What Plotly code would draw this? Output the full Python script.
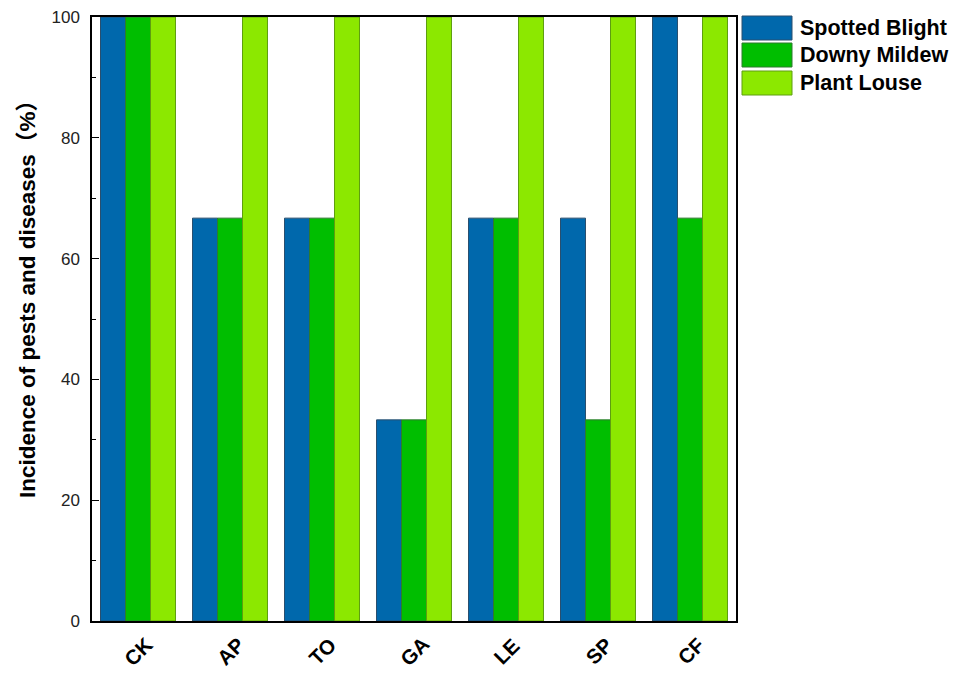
import plotly.graph_objects as go

categories = ["CK", "AP", "TO", "GA", "LE", "SP", "CF"]
series_names = ["Spotted Blight", "Downy Mildew", "Plant Louse"]
spotted_blight = [100, 66.7, 66.7, 33.3, 66.7, 66.7, 100]
downy_mildew = [100, 66.7, 66.7, 33.3, 66.7, 33.3, 66.7]
plant_louse = [100, 100, 100, 100, 100, 100, 100]
y_ticks = [0, 20, 40, 60, 80, 100]
y_title = "Incidence of pests and diseases（%）"

values = [spotted_blight, downy_mildew, plant_louse]
colors = ["#0068AC", "#00BE00", "#8CE800"]
outlines = ["#2A4F6E", "#2E7A2E", "#5E9E10"]

W, H = 958, 676
L, R, T, B = 92, 736, 17, 621

fig = go.Figure()
for name, vals, c, oc in zip(series_names, values, colors, outlines):
    fig.add_trace(go.Bar(x=categories, y=vals, name=name,
                         marker=dict(color=c, line=dict(color=oc, width=1)),
                         showlegend=False))

pw, ph = R - L, B - T
def px_x(x):
    return (x - L) / pw
def px_y(y):
    return (B - y) / ph

# manual legend with wide swatches
tops = [16, 43, 71]
for name, c, oc, t in zip(series_names, colors, outlines, tops):
    fig.add_shape(type="rect", xref="paper", yref="paper",
                  x0=px_x(742), x1=px_x(792), y0=px_y(t + 24), y1=px_y(t),
                  fillcolor=c, line=dict(color=oc, width=1))
    fig.add_annotation(xref="paper", yref="paper", x=px_x(798), y=px_y(t + 12),
                       text="<b>%s</b>" % name, showarrow=False,
                       xanchor="left", yanchor="middle",
                       font=dict(family="Liberation Sans, Arial", size=21.5, color="black"))

# rotated category labels centred under each group
for cat in categories:
    fig.add_annotation(xref="x", yref="paper", x=cat, y=px_y(651),
                       text="<b>%s</b>" % cat, showarrow=False, textangle=-45,
                       xanchor="center", yanchor="middle",
                       font=dict(family="Liberation Sans, Arial", size=20.5, color="black"))

# y-axis title
fig.add_annotation(xref="paper", yref="paper", x=px_x(27), y=px_y(294),
                   text="<b>%s</b>" % y_title, showarrow=False, textangle=-90,
                   xanchor="center", yanchor="middle",
                   font=dict(family="Liberation Sans, Arial, Noto Sans CJK SC", size=22.5, color="black"))

fig.update_layout(
    width=W, height=H,
    margin=dict(l=L, r=W - R, t=T, b=H - B, autoexpand=False),
    paper_bgcolor="white", plot_bgcolor="white",
    barmode="group", bargap=0.185, bargroupgap=0,
    font=dict(family="Liberation Sans, Arial, Noto Sans CJK SC", color="black"),
)
fig.update_xaxes(
    range=[-0.5, 6.5], showline=True, linecolor="black", linewidth=1.5, mirror=True,
    ticks="", showticklabels=False, showgrid=False, automargin=False,
)
fig.update_yaxes(
    range=[0, 100], tickvals=y_ticks, showline=True, linecolor="black", linewidth=1.5,
    mirror=True, ticks="inside", ticklen=7, tickwidth=1, tickcolor="black",
    minor=dict(ticks="inside", ticklen=4, dtick=10, tickcolor="black", tickwidth=1),
    tickfont=dict(family="Liberation Sans, Arial", size=17, color="#222"),
    ticklabelstandoff=7, automargin=False,
    showgrid=False, zeroline=False,
)

fig.write_html("out.html")
